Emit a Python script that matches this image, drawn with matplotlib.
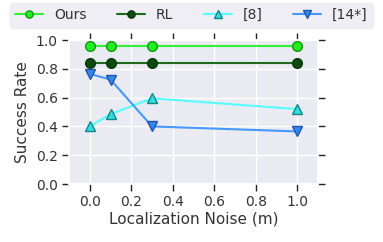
import matplotlib
matplotlib.use("Agg")
import matplotlib.pyplot as plt
import seaborn as sns

sns.set_theme(style="darkgrid")
plt.rcParams['font.family'] = ['DejaVu Sans']

noise = [0.0, 0.1, 0.3, 1.0]
ours = [0.96, 0.96, 0.96, 0.96]
rl = [0.84, 0.84, 0.84, 0.84]
ref8 = [0.40, 0.485, 0.595, 0.52]
ref14 = [0.765, 0.725, 0.40, 0.365]
labels = ["Ours", "RL", "[8]", "[14*]"]
xticks = [0.0, 0.2, 0.4, 0.6, 0.8, 1.0]
yticks = [0.0, 0.2, 0.4, 0.6, 0.8, 1.0]

fig = plt.figure(figsize=(3.83, 2.42), dpi=100)
ax = fig.add_axes([69/383, 1-184/242, 249/383, 144/242])

ms = 7
ax.plot(noise, ours, '-o', color='#33ee33', mfc='#22ee22', mec='#119911', ms=ms, lw=1.5, label=labels[0])
ax.plot(noise, rl, '-o', color='#1e6b1e', mfc='#0d4a0d', mec='#0a3a0a', ms=ms, lw=1.5, label=labels[1])
ax.plot(noise, ref8, '-^', color='#55ffff', mfc='#33dddd', mec='#118888', ms=ms, lw=1.5, label=labels[2])
ax.plot(noise, ref14, '-v', color='#4499ff', mfc='#3388ee', mec='#2255aa', ms=ms, lw=1.5, label=labels[3])

ax.set_xlim(-0.1, 1.1)
ax.set_ylim(0.0, 1.0)
ax.set_xticks(xticks)
ax.set_yticks(yticks)
ax.set_xticklabels([f"{v:.1f}" for v in xticks])
ax.set_yticklabels([f"{v:.1f}" for v in yticks])
ax.tick_params(axis='both', which='both', direction='out', length=5, width=1,
               color='#222222', top=True, right=True, bottom=True, left=True,
               labelsize=10, labelcolor='#333333', pad=3)
ax.set_xlabel("Localization Noise (m)", fontsize=11, color='#333333', labelpad=2)
ax.set_ylabel("Success Rate", fontsize=11, color='#333333', labelpad=4)

leg = fig.legend(loc='upper center', bbox_to_anchor=(0.5, 1.0), ncol=4, fontsize=10,
                 frameon=True, facecolor='#eaeaf2', edgecolor='#eaeaf2',
                 borderaxespad=0.2, columnspacing=2.2, handlelength=2.0,
                 markerscale=0.75)
for t in leg.get_texts():
    t.set_color('#333333')

fig.savefig("out.png", dpi=100)
